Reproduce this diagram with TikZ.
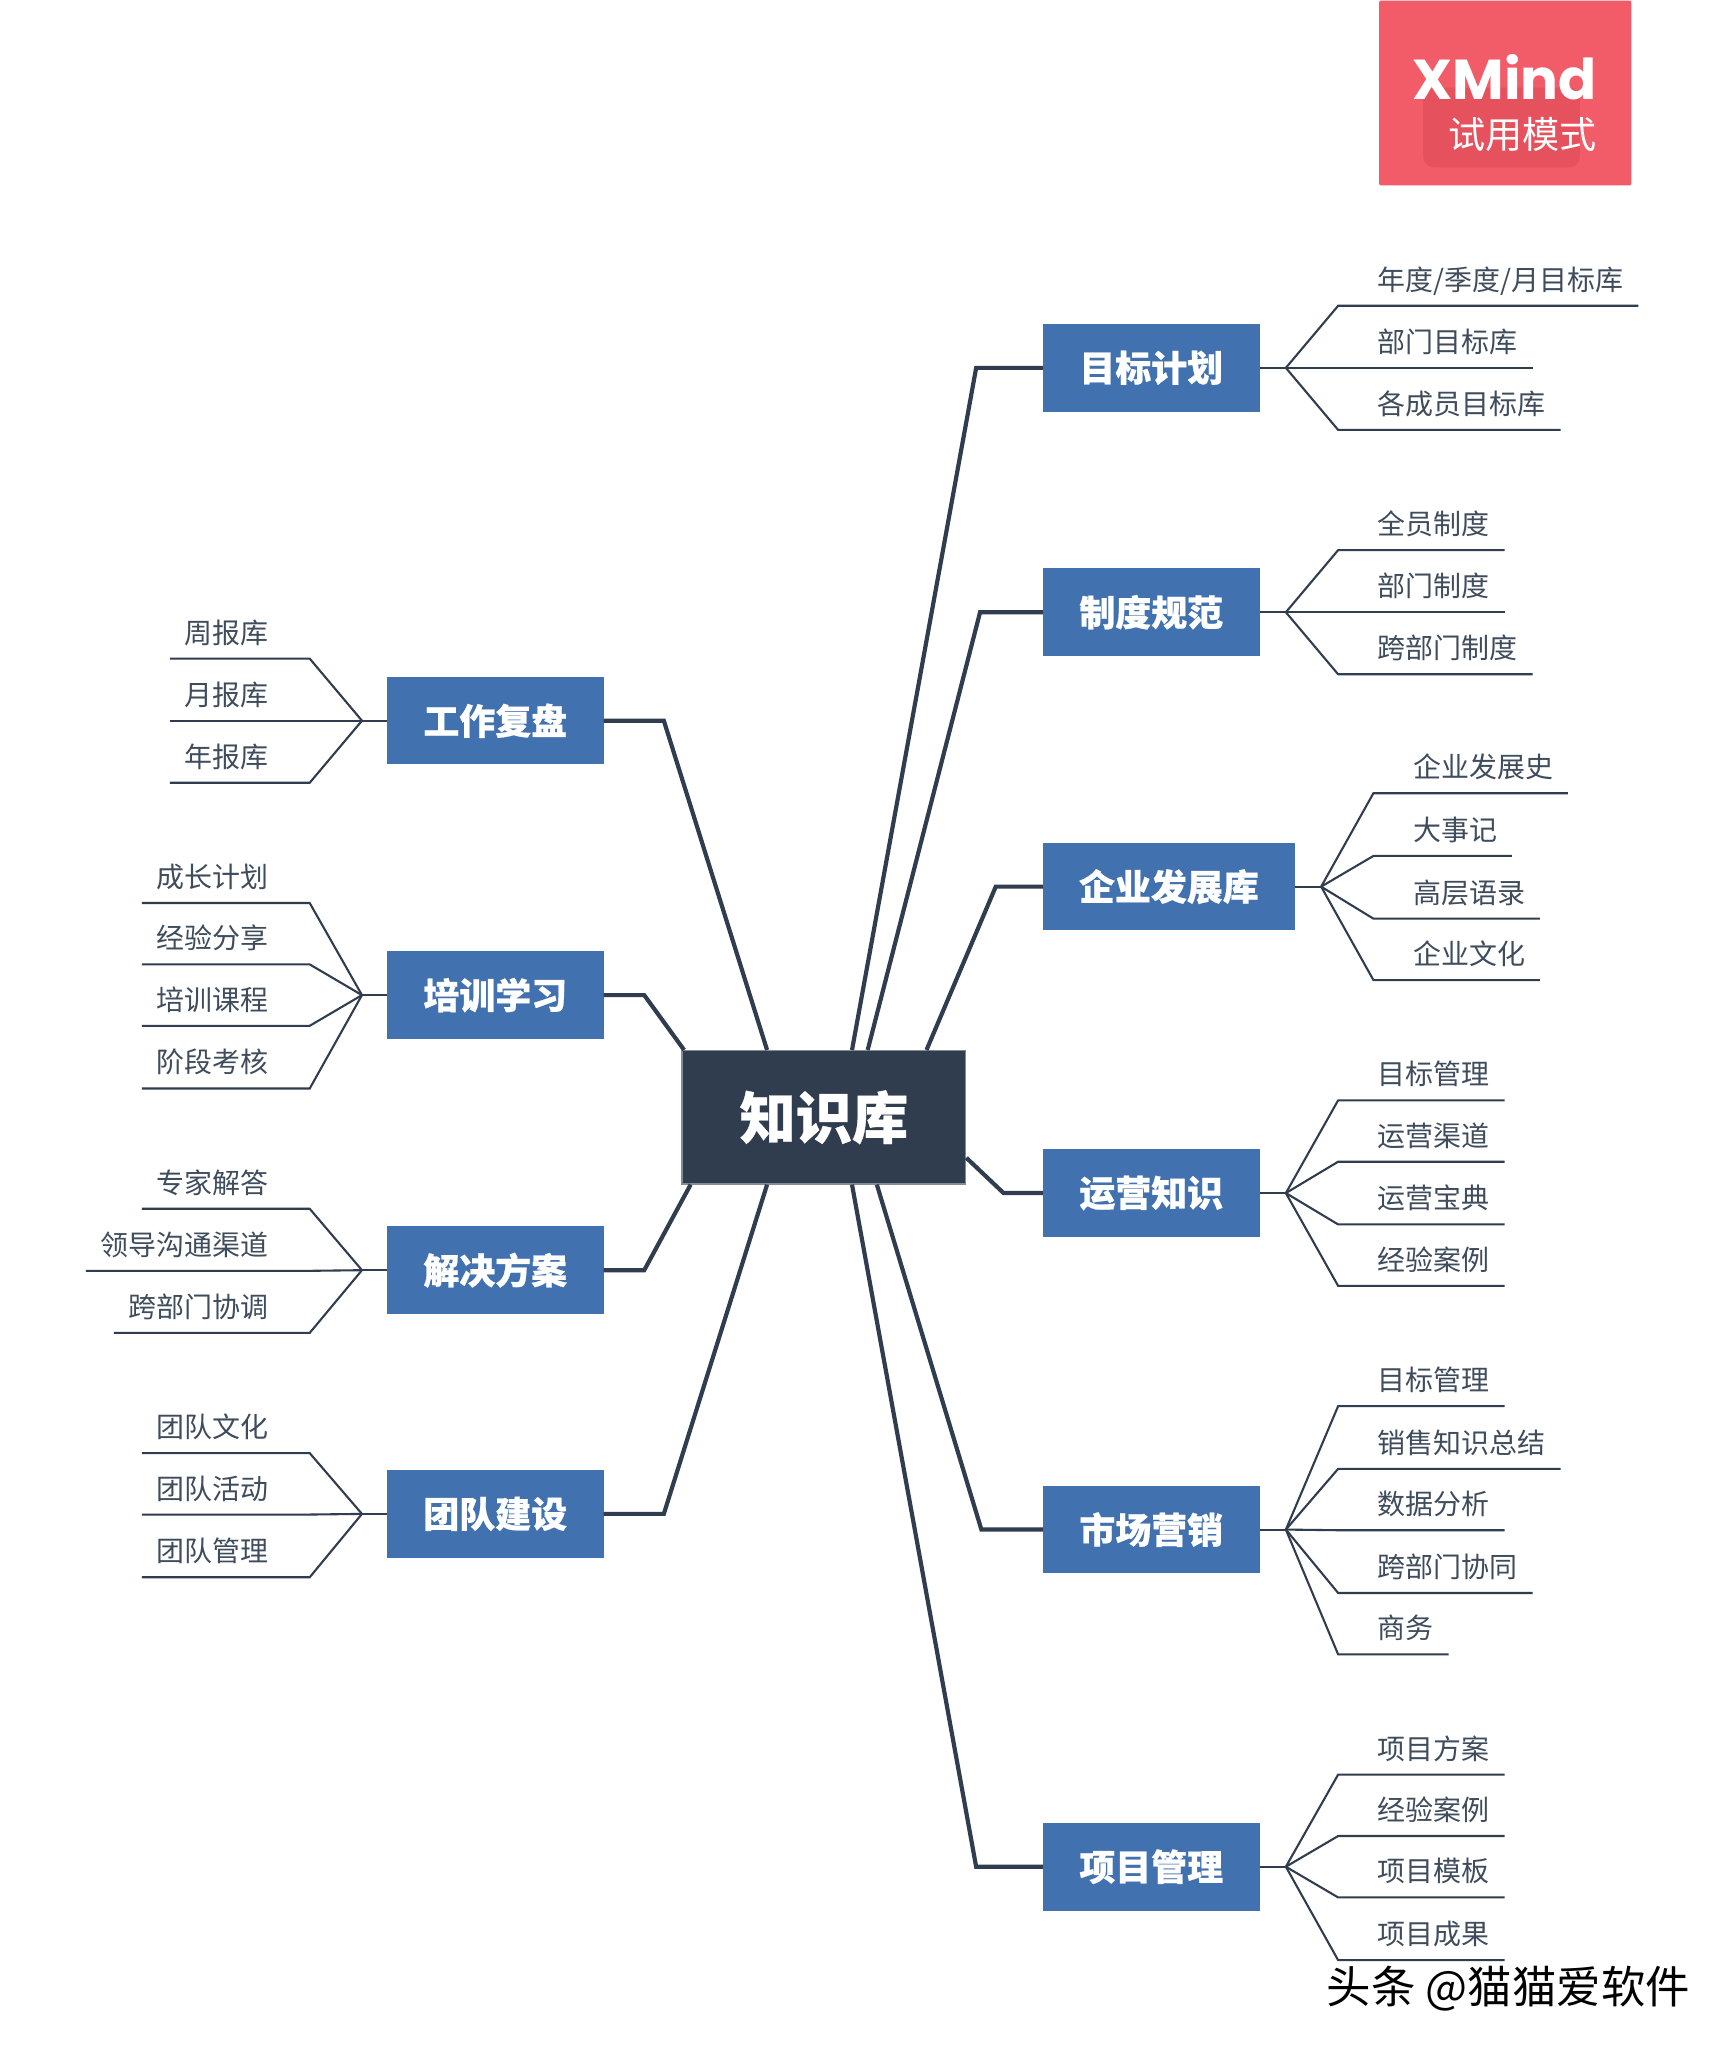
\documentclass[tikz,border=0pt]{standalone}
\usepackage{fontspec}
\setmainfont{Noto Sans CJK SC}[BoldFeatures={FakeBold=0.6}]
\newfontfamily\logofont{Poppins}
\usetikzlibrary{calc}
\definecolor{inkdark}{HTML}{303D4E}
\definecolor{leaftext}{HTML}{3F4C5C}
\definecolor{boxblue}{HTML}{4172AF}
\definecolor{logored}{HTML}{F25C68}
\definecolor{logodark}{HTML}{E5525E}
\tikzset{
  x=0.5pt,y=-0.5pt,
  mainbox/.style={fill=boxblue,text=white,minimum height=33.5pt,inner sep=0pt,outer sep=0pt,font=\fontsize{13.75}{16}\selectfont\bfseries},
  rootbox/.style={fill=inkdark,draw=inkdark!60!white,line width=.5pt,text=white,minimum width=108.5pt,minimum height=51pt,inner sep=0pt,font=\fontsize{21.5}{25}\selectfont\bfseries},
  leaf/.style={inner sep=0pt,text=leaftext,text height=9.4pt,text depth=1.3pt,font=\fontsize{10.7}{13}\selectfont},
  trunk/.style={draw=inkdark,line width=1.6pt,line join=miter},
  twig/.style={draw=inkdark,line width=.8pt,line join=miter},
}
\newcommand\rleaf[4]{% fork, name, y, text
  \node[leaf,anchor=west] (#2) at ($(#1 |- 0,#3)+(70,-20)$) {#4};
  \draw[twig] (#1) -- ([xshift=-15pt,yshift=-10pt]#2.west) -- ([xshift=5.5pt,yshift=-10pt]#2.east);
}
\newcommand\lleaf[4]{% fork, name, y, text
  \node[leaf,anchor=east] (#2) at ($(#1 |- 0,#3)+(-71,-20)$) {#4};
  \draw[twig] (#1) -- ([xshift=15.5pt,yshift=-10pt]#2.east) -- ([xshift=-5.5pt,yshift=-10pt]#2.west);
}
\begin{document}
\begin{tikzpicture}
\useasboundingbox (0,0) rectangle (1320,1568);
\fill[white] (0,0) rectangle (1320,1568);
% logo
\node[fill=logored,minimum width=96.5pt,minimum height=70.7pt,inner sep=0pt,anchor=north west,rounded corners=.5pt] (logo) at (1055,0) {};
\node[fill=logodark,minimum width=60pt,minimum height=30.5pt,inner sep=0pt,rounded corners=4pt] (logoin) at (1149,97.5) {};
\node[text=white,inner sep=0pt,font=\logofont\bfseries\fontsize{21.5}{24}\selectfont] (logot) at (1151.5,59) {XMind};
\node[text=white,inner sep=0pt,font=\fontsize{14.2}{17}\selectfont] (logos) at (1165,103) {试用模式};
% root
\node[rootbox] (ctr) at (630.5,855) {知识库};
% main topics
\node[mainbox,minimum width=83pt] (a1) at (881,281.5) {目标计划};
\node[mainbox,minimum width=83pt] (a2) at (881,468.5) {制度规范};
\node[mainbox,minimum width=96.5pt] (a3) at (894.5,678.5) {企业发展库};
\node[mainbox,minimum width=83pt] (a4) at (881,913) {运营知识};
\node[mainbox,minimum width=83pt] (a5) at (881,1170.5) {市场营销};
\node[mainbox,minimum width=83pt] (a6) at (881,1428.5) {项目管理};
\node[mainbox,minimum width=83pt] (b1) at (379,551.5) {工作复盘};
\node[mainbox,minimum width=83pt] (b2) at (379,761.5) {培训学习};
\node[mainbox,minimum width=83pt] (b3) at (379,972) {解决方案};
\node[mainbox,minimum width=83pt] (b4) at (379,1158.5) {团队建设};
% trunks
\coordinate (ka1) at (747,281.5);
\coordinate (ka2) at (750,468.5);
\coordinate (ka3) at (762,678.5);
\coordinate (ka4) at (768,913);
\coordinate (ka5) at (751,1170.5);
\coordinate (ka6) at (747,1428.5);
\coordinate (kb1) at (508,551.5);
\coordinate (kb2) at (493,761.5);
\coordinate (kb3) at (493,972);
\coordinate (kb4) at (508,1158.5);
\draw[trunk] ([xshift=10.75pt]ctr.north) -- (ka1) -- (a1.west);
\draw[trunk] ([xshift=16.75pt]ctr.north) -- (ka2) -- (a2.west);
\draw[trunk] ([xshift=39.25pt]ctr.north) -- (ka3) -- (a3.west);
\draw[trunk] ([yshift=-15.5pt]ctr.east) -- (ka4) -- (a4.west);
\draw[trunk] ([xshift=20.25pt]ctr.south) -- (ka5) -- (a5.west);
\draw[trunk] ([xshift=10.75pt]ctr.south) -- (ka6) -- (a6.west);
\draw[trunk] ([xshift=-21.75pt]ctr.north) -- (kb1) -- (b1.east);
\draw[trunk] ([xshift=1pt]ctr.north west) -- (kb2) -- (b2.east);
\draw[trunk] ([xshift=3.5pt]ctr.south west) -- (kb3) -- (b3.east);
\draw[trunk] ([xshift=-21.75pt]ctr.south) -- (kb4) -- (b4.east);
% forks
\coordinate (fa1) at ([xshift=10pt]a1.east);
\coordinate (fa2) at ([xshift=10pt]a2.east);
\coordinate (fa3) at ([xshift=10pt]a3.east);
\coordinate (fa4) at ([xshift=10pt]a4.east);
\coordinate (fa5) at ([xshift=10pt]a5.east);
\coordinate (fa6) at ([xshift=10pt]a6.east);
\coordinate (fb1) at ([xshift=-9.5pt]b1.west);
\coordinate (fb2) at ([xshift=-9.5pt]b2.west);
\coordinate (fb3) at ([xshift=-9.5pt]b3.west);
\coordinate (fb4) at ([xshift=-9.5pt]b4.west);
\foreach \n in {a1,a2,a3,a4,a5,a6}{\draw[twig] (\n.east) -- (f\n);}
\foreach \n in {b1,b2,b3,b4}{\draw[twig] (\n.west) -- (f\n);}
% leaves right
\rleaf{fa1}{a11}{234}{年度/季度/月目标库}
\rleaf{fa1}{a12}{281.5}{部门目标库}
\rleaf{fa1}{a13}{329}{各成员目标库}
\rleaf{fa2}{a21}{421}{全员制度}
\rleaf{fa2}{a22}{468.5}{部门制度}
\rleaf{fa2}{a23}{516}{跨部门制度}
\rleaf{fa3}{a31}{607}{企业发展史}
\rleaf{fa3}{a32}{655}{大事记}
\rleaf{fa3}{a33}{703}{高层语录}
\rleaf{fa3}{a34}{750}{企业文化}
\rleaf{fa4}{a41}{842}{目标管理}
\rleaf{fa4}{a42}{889}{运营渠道}
\rleaf{fa4}{a43}{937}{运营宝典}
\rleaf{fa4}{a44}{984}{经验案例}
\rleaf{fa5}{a51}{1076}{目标管理}
\rleaf{fa5}{a52}{1124}{销售知识总结}
\rleaf{fa5}{a53}{1171}{数据分析}
\rleaf{fa5}{a54}{1219}{跨部门协同}
\rleaf{fa5}{a55}{1266}{商务}
\rleaf{fa6}{a61}{1358}{项目方案}
\rleaf{fa6}{a62}{1405}{经验案例}
\rleaf{fa6}{a63}{1452}{项目模板}
\rleaf{fa6}{a64}{1500}{项目成果}
% leaves left
\lleaf{fb1}{b11}{504}{周报库}
\lleaf{fb1}{b12}{551.5}{月报库}
\lleaf{fb1}{b13}{599}{年报库}
\lleaf{fb2}{b21}{691}{成长计划}
\lleaf{fb2}{b22}{738}{经验分享}
\lleaf{fb2}{b23}{785}{培训课程}
\lleaf{fb2}{b24}{833}{阶段考核}
\lleaf{fb3}{b31}{925}{专家解答}
\lleaf{fb3}{b32}{972.5}{领导沟通渠道}
\lleaf{fb3}{b33}{1020}{跨部门协调}
\lleaf{fb4}{b41}{1112}{团队文化}
\lleaf{fb4}{b42}{1159}{团队活动}
\lleaf{fb4}{b43}{1207}{团队管理}
% watermark
\node[text=black,inner sep=0pt,anchor=west,font=\fontsize{17}{20}\selectfont] (wm) at (1015,1522) {头条 @猫猫爱软件};
\end{tikzpicture}
\end{document}
